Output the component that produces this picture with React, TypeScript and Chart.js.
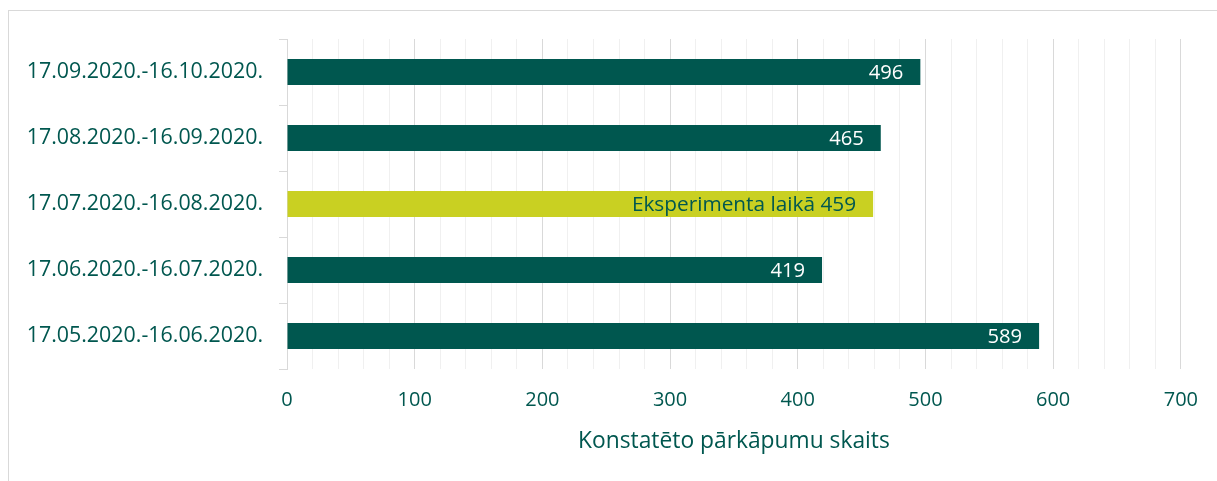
import React, { useEffect, useRef } from "react";
import { Chart, registerables } from "chart.js";

Chart.register(...registerables);

const categories = [
  "17.09.2020.-16.10.2020.",
  "17.08.2020.-16.09.2020.",
  "17.07.2020.-16.08.2020.",
  "17.06.2020.-16.07.2020.",
  "17.05.2020.-16.06.2020.",
];
const values = [496, 465, 459, 419, 589];
const labelPrefixes = ["", "", "Eksperimenta laikā ", "", ""];
const highlightIndex = 2;
const axisTitle = "Konstatēto pārkāpumu skaits";

const DARK = "#00574F";
const LIME = "#C9D022";
const TEXT = "#00574F";
const FONT = "'Open Sans', sans-serif";

const valueLabels = {
  id: "valueLabels",
  afterDatasetsDraw(chart: any) {
    const ctx = chart.ctx;
    const meta = chart.getDatasetMeta(0);
    ctx.save();
    ctx.textAlign = "right";
    ctx.textBaseline = "middle";
    meta.data.forEach((el: any, i: number) => {
      const text = labelPrefixes[i] + String(values[i]);
      const hi = i === highlightIndex;
      ctx.font = `${hi ? 20.8 : 20.2}px ${FONT}`;
      ctx.fillStyle = hi ? TEXT : "#ffffff";
      ctx.fillText(text, el.x - 17, el.y + 1);
    });
    ctx.restore();
  },
};

export default function App() {
  const ref = useRef<HTMLCanvasElement>(null);
  useEffect(() => {
    if (!ref.current) return;
    const chart = new Chart(ref.current, {
      type: "bar",
      data: {
        labels: categories,
        datasets: [
          {
            data: values,
            backgroundColor: values.map((_, i) => (i === highlightIndex ? LIME : DARK)),
            barPercentage: 1,
            categoryPercentage: 26 / 66,
            borderWidth: 0,
          },
        ],
      },
      options: {
        indexAxis: "y",
        animation: false,
        responsive: true,
        maintainAspectRatio: false,
        layout: { padding: { top: 39, right: 34, left: 0, bottom: 0 } },
        plugins: {
          legend: { display: false },
          tooltip: { enabled: false },
        },
        scales: {
          x: {
            min: 0,
            max: 700,
            border: { display: false },
            grid: {
              drawTicks: false,
              color: (c: any) => (c.tick && c.tick.value % 100 === 0 ? "#d9d9d9" : "#f0f0f0"),
              lineWidth: 1,
            },
            ticks: {
              stepSize: 20,
              autoSkip: false,
              maxRotation: 0,
              padding: 19,
              color: TEXT,
              font: { family: FONT, size: 20 },
              callback: (v: any) => (Number(v) % 100 === 0 ? String(v) : ""),
            },
            title: {
              display: true,
              text: axisTitle,
              color: TEXT,
              font: { family: FONT, size: 22.8 },
              padding: { top: 0, bottom: 26 },
            },
            afterFit: (scale: any) => {
              scale.height = 112;
            },
          },
          y: {
            border: { display: true, color: "#d9d9d9" },
            grid: {
              offset: true,
              drawOnChartArea: false,
              drawTicks: true,
              tickLength: 8,
              color: "#d9d9d9",
            },
            ticks: {
              padding: 16,
              color: TEXT,
              font: { family: FONT, size: 21.4 },
            },
            afterFit: (scale: any) => {
              scale.width = 287;
            },
          },
        },
      },
      plugins: [valueLabels],
    });
    return () => chart.destroy();
  }, []);

  return (
    <div style={{ position: "fixed", left: 0, top: 0, width: 1217, height: 481, overflow: "hidden", background: "#fff" }}>
      <div
        style={{
          position: "absolute",
          left: 8,
          top: 10,
          width: 1300,
          height: 600,
          border: "1px solid #d9d9d9",
          boxSizing: "border-box",
        }}
      />
      <div style={{ position: "absolute", left: 0, top: 0, width: 1217, height: 481 }}>
        <canvas ref={ref} />
      </div>
    </div>
  );
}
